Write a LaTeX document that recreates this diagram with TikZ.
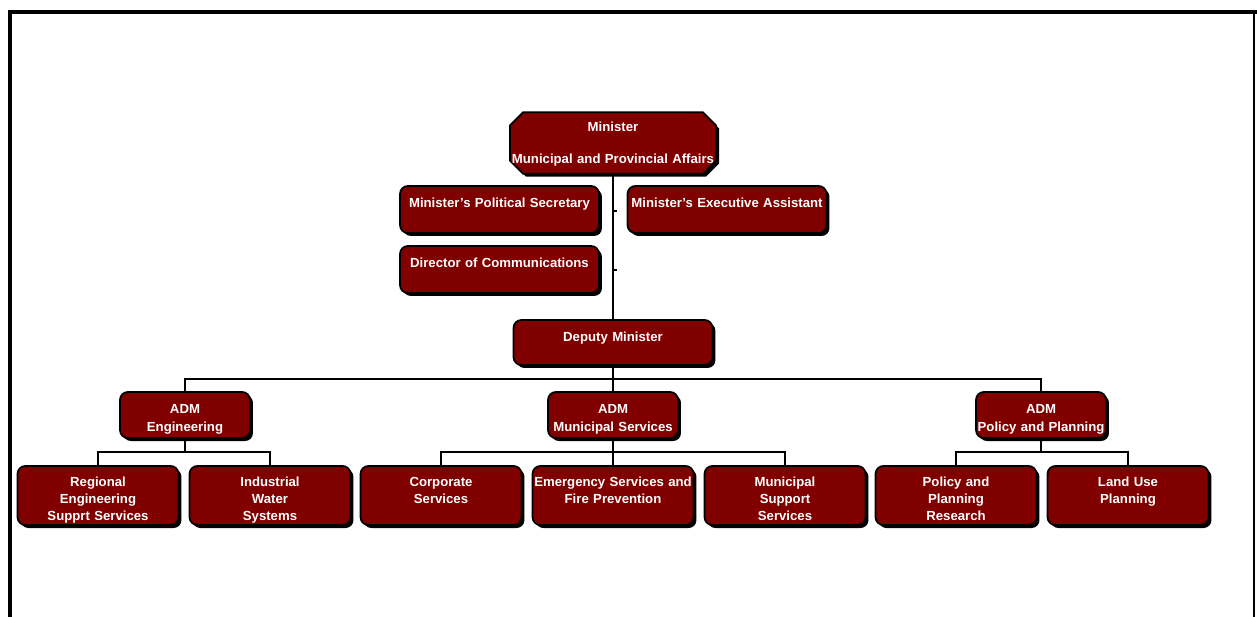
\documentclass[tikz,border=0pt]{standalone}
\usepackage{fontspec}
\setmainfont{Liberation Sans}
\usetikzlibrary{shapes.misc,shadows,positioning}
\definecolor{boxred}{HTML}{800000}

\begin{document}
\begin{tikzpicture}[x=0.02cm, y=-0.02cm,
	basic/.style  = {draw, line width=1pt, fill=boxred, text=white, align=center, inner xsep=0pt,
		font=\bfseries\fontsize{7.5}{9.8}\selectfont,
		drop shadow={shadow xshift=1.7pt, shadow yshift=-1.7pt, fill=black, opacity=1}},
	root/.style   = {basic, chamfered rectangle, chamfered rectangle xsep=4pt, chamfered rectangle ysep=3.5pt,
		minimum width=4.12cm, minimum height=35pt, text width=3.84cm, text height=5.4pt, text depth=18.2pt, inner sep=0pt},
	staff/.style  = {basic, rounded corners=4.5pt, text width=3.98cm, text height=8pt, text depth=9.75pt, inner ysep=4.5pt},
	adm/.style    = {basic, rounded corners=4.5pt, text width=2.6cm, text height=8pt, text depth=9.2pt, inner ysep=4.5pt},
	unit/.style   = {basic, rounded corners=4.5pt, text width=3.22cm, text height=7pt, text depth=17.8pt, inner ysep=4.4pt},
	conn/.style   = {draw, line width=0.9pt}]

	\useasboundingbox (0,0) rectangle (1257,617);

	% frame round the chart
	\draw[line width=2.3pt] (10,617) -- (10,12) -- (1257,12);
	\draw[line width=0.8pt] (1254,12) -- (1254,617);

	% minister and office
	\node[root] (min) at (613,143) {Minister\\[8.4pt]\makebox[\linewidth][c]{Municipal and Provincial Affairs}};
	\node[staff] (sec) at (499.5,209.5) {Minister's Political Secretary};
	\node[staff] (exa) at (727,209.5) {Minister's Executive Assistant};
	\node[staff, text depth=9.75pt] (dir) at (499.5,269.5) {Director of Communications};
	\node[staff, text depth=8.6pt] (dep) at (613,342.5) {Deputy Minister};

	% the ADMs
	\node[adm] (a1) at (185,415) {ADM\\Engineering};
	\node[adm] (a2) at (613,415) {ADM\\Municipal Services};
	\node[adm] (a3) at (1041,415) {ADM\\Policy and Planning};

	% the branches under each ADM
	\node[unit] (a11) at (98,495.5) {Regional\\Engineering\\Supprt Services};
	\node[unit] (a12) at (270,495.5) {Industrial\\Water\\Systems};
	\node[unit] (a21) at (441,495.5) {Corporate\\Services};
	\node[unit] (a22) at (613,495.5) {Emergency Services and\\Fire Prevention};
	\node[unit] (a23) at (785,495.5) {Municipal\\Support\\Services};
	\node[unit] (a31) at (956,495.5) {Policy and\\Planning\\Research};
	\node[unit] (a32) at (1128,495.5) {Land Use\\Planning};

	% lines
	\draw[conn] (min.south) -- (dep.north);
	\coordinate (t1) at (613,211);
	\coordinate (t2) at (613,270);
	\draw[conn] (t1) -- ++(4,0);
	\draw[conn] (t2) -- ++(4,0);

	\foreach \value in {1,2,3}
	\draw[conn] (dep.south) -- ++(0,13) -| (a\value.north);

	\foreach \value in {1,2}
	\draw[conn] (a1.south) -- ++(0,13) -| (a1\value.north);

	\foreach \value in {1,2,3}
	\draw[conn] (a2.south) -- ++(0,13) -| (a2\value.north);

	\foreach \value in {1,2}
	\draw[conn] (a3.south) -- ++(0,13) -| (a3\value.north);

\end{tikzpicture}
\end{document}
